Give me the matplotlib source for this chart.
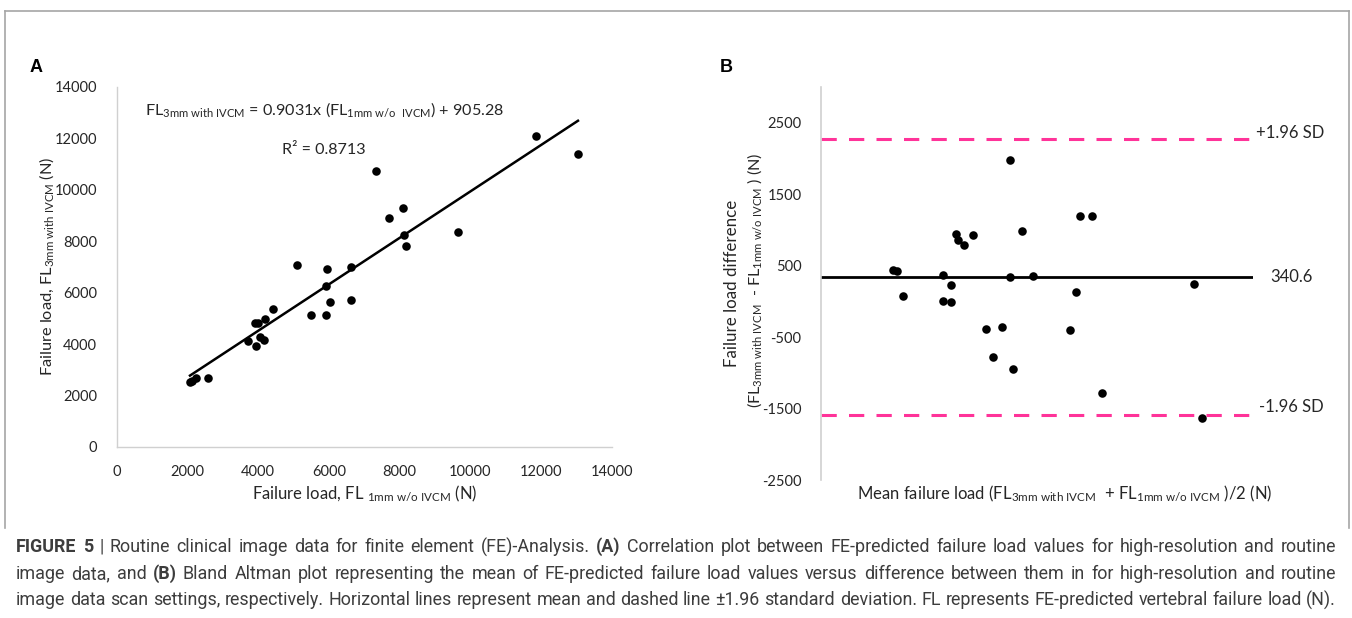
import matplotlib
matplotlib.use("Agg")
import matplotlib.pyplot as plt
from matplotlib.lines import Line2D
from matplotlib import font_manager
import numpy as np

# ---------------- data ----------------
# Panel A: FL 1mm w/o IVCM (x) vs FL 3mm with IVCM (y)
xA = [2073, 2138, 2234, 2591, 3722, 3930, 3911, 3987, 4053, 4175, 4194, 4429,
      5108, 5504, 5911, 5911, 5957, 6032, 6618, 6635, 7342, 7710, 8097, 8125,
      8190, 9652, 11850, 13046]
yA = [2540, 2579, 2672, 2672, 4123, 3928, 4835, 4835, 4290, 4162, 4979, 5355,
      7079, 5122, 5122, 6262, 6923, 5652, 6989, 5718, 10735, 8919, 9308, 8258,
      7806, 8363, 12096, 11396]
slope = 0.9031
intercept = 905.28
r2 = 0.8713
ticksA = [0, 2000, 4000, 6000, 8000, 10000, 12000, 14000]

# Panel B: Bland-Altman
xB = [2324, 2473, 2648, 3954, 4203, 3954, 4203, 4385, 4430, 4635, 4926, 5357,
      5565, 5866, 6135, 6125, 6213, 6505, 6861, 8384, 8783, 8265, 8060, 9097,
      12079, 12338]
yB = [441, 422, 77, 375, 227, 3, -7, 944, 860, 794, 934, -389, -772, -361,
      1975, 338, -940, 990, 361, 1196, 1192, 129, -399, -1284, 245, -1639]
mean_diff = 340.6
upper_loa = 2273
lower_loa = -1592
yticksB = [-2500, -1500, -500, 500, 1500, 2500]

# ---------------- style ----------------
plt.rcParams['font.family'] = ['Lato', 'DejaVu Sans']
plt.rcParams['mathtext.fontset'] = 'custom'
plt.rcParams['mathtext.rm'] = 'Lato'
plt.rcParams['mathtext.it'] = 'Lato:italic'
plt.rcParams['mathtext.bf'] = 'Lato:bold'

W, H = 1352, 618
fig = plt.figure(figsize=(W / 100, H / 100), dpi=100)

def fx(x):
    return x / W

def fy(y):
    return 1 - y / H

def ax_rect(x0, y0, x1, y1):
    return [fx(x0), fy(y1), (x1 - x0) / W, (y1 - y0) / H]

TXT = '#262626'
SPINE = '#d0d0d0'

# frame
frame_col = '#a6a6a6'
fig.add_artist(Line2D([fx(4.7), fx(4.7)], [fy(10.7), fy(528)], color=frame_col, lw=1.2))
fig.add_artist(Line2D([fx(4.7), fx(1349.3)], [fy(10.7), fy(10.7)], color=frame_col, lw=1.2))
fig.add_artist(Line2D([fx(1349.3), fx(1349.3)], [fy(10.7), fy(528)], color=frame_col, lw=1.2))

# ---------------- Panel A ----------------
axA = fig.add_axes(ax_rect(116.7, 87, 611.7, 447))
axA.scatter(xA, yA, s=38, color='black', zorder=3, linewidths=0)
xl = np.array([min(xA), max(xA)])
axA.plot(xl, slope * xl + intercept, color='black', lw=1.8, zorder=2)
axA.set_xlim(0, 14000)
axA.set_ylim(0, 14000)
axA.set_xticks(ticksA)
axA.set_yticks(ticksA)
axA.set_xticklabels([str(t) for t in ticksA])
axA.set_yticklabels([str(t) for t in ticksA])
for s in ['top', 'right']:
    axA.spines[s].set_visible(False)
for s in ['left', 'bottom']:
    axA.spines[s].set_color(SPINE)
    axA.spines[s].set_linewidth(1.0)
axA.tick_params(length=0, labelsize=10.5, colors=TXT, pad=14)
axA.tick_params(axis='x', pad=13)

fig.text(fx(145), fy(110),
         r'FL$_{\mathregular{3mm\ with\ IVCM}}$ = 0.9031x (FL$_{\mathregular{1mm\ w/o\ \ IVCM}}$) + 905.28',
         fontsize=11.6, color=TXT, ha='left', va='center')
fig.text(fx(282), fy(150), 'R² = %.4f' % r2, fontsize=11.6, color=TXT, ha='left', va='center')

fig.text(fx(47), fy(266.7), r'Failure load, FL$_{\mathregular{3mm\ with\ IVCM}}$ (N)',
         rotation=90, fontsize=11.8, color=TXT, ha='center', va='center')
fig.text(fx(364.5), fy(493), r'Failure load, FL $_{\mathregular{1mm\ w/o\ IVCM}}$ (N)',
         fontsize=12, color=TXT, ha='center', va='center')
fig.text(fx(36), fy(67), 'A', fontsize=13, fontweight='bold', color='black',
         ha='center', va='center', family=['Liberation Sans', 'DejaVu Sans'])

# ---------------- Panel B ----------------
axB = fig.add_axes(ax_rect(821, 87, 1253, 480))
axB.set_xlim(0, 14000)
axB.set_ylim(-2500, 3000)
axB.axhline(upper_loa, color='#ff3399', lw=2.2, dashes=(5, 4), zorder=1)
axB.axhline(lower_loa, color='#ff3399', lw=2.2, dashes=(5, 4), zorder=1)
axB.axhline(mean_diff, color='black', lw=2.0, zorder=2)
axB.scatter(xB, yB, s=38, color='black', zorder=3, linewidths=0)
axB.set_yticks(yticksB)
axB.set_yticklabels([str(t) for t in yticksB])
axB.set_xticks([])
for s in ['top', 'right', 'bottom']:
    axB.spines[s].set_visible(False)
axB.spines['left'].set_color(SPINE)
axB.spines['left'].set_linewidth(1.2)
axB.tick_params(length=0, labelsize=10.5, colors=TXT, pad=14)

fig.text(fx(1256), fy(133), '+1.96 SD', fontsize=12, color=TXT, ha='left', va='center')
fig.text(fx(1270), fy(276.7), '%.1f' % mean_diff, fontsize=12, color=TXT, ha='left', va='center')
fig.text(fx(1259), fy(407), '-1.96 SD', fontsize=12, color=TXT, ha='left', va='center')

fig.text(fx(732), fy(283), 'Failure load difference', rotation=90, fontsize=12.2,
         color=TXT, ha='center', va='center')
fig.text(fx(755), fy(280),
         r'(FL$_{\mathregular{3mm\ with\ IVCM}}$  - FL$_{\mathregular{1mm\ w/o\ IVCM}}$ ) (N)',
         rotation=90, fontsize=11.6, color=TXT, ha='center', va='center')
fig.text(fx(1065), fy(493),
         r'Mean failure load (FL$_{\mathregular{3mm\ with\ IVCM}}$  + FL$_{\mathregular{1mm\ w/o\ IVCM}}$ )/2 (N)',
         fontsize=12, color=TXT, ha='center', va='center')
fig.text(fx(726), fy(67), 'B', fontsize=13, fontweight='bold', color='black',
         ha='center', va='center', family=['Liberation Sans', 'DejaVu Sans'])

# ---------------- caption (justified) ----------------
cap_lines = [
    [("FIGURE 5", True), (" | Routine clinical image data for finite element (FE)-Analysis.", False),
     ("(A)", True), ("Correlation plot between FE-predicted failure load values for high-resolution and routine", False)],
    [("image data, and", False), ("(B)", True),
     ("Bland Altman plot representing the mean of FE-predicted failure load values versus difference between them in for high-resolution and routine", False)],
    [("image data scan settings, respectively. Horizontal lines represent mean and dashed line ±1.96 standard deviation. FL represents FE-predicted vertebral failure load (N).", False)],
]
cap_y = [547, 574, 600]
CAPCOL = '#3d3d3d'
names = {f.name for f in font_manager.fontManager.ttflist}
if 'Liberation Sans Narrow' in names:
    cap_family = ['Liberation Sans Narrow', 'DejaVu Sans']
    cap_weight = 'normal'
else:
    cap_family = ['Roboto', 'DejaVu Sans']
    cap_weight = 'normal'
renderer = fig.canvas.get_renderer()
x_left, x_right = 16, 1336

def words_of(line):
    out = []
    for seg, bold in line:
        for w in seg.split():
            out.append((w, bold))
    return out

# pick font size so that the first line fits with ordinary spaces
probe_fs = 12.0
def natural_width(line, fs):
    ws = words_of(line)
    tot = 0
    for w, bold in ws:
        t = fig.text(0, 0, w, fontsize=fs, family=cap_family,
                     fontweight='bold' if bold else cap_weight)
        tot += t.get_window_extent(renderer).width
        t.remove()
    sp = fig.text(0, 0, 'a a', fontsize=fs, family=cap_family)
    sa = fig.text(0, 0, 'aa', fontsize=fs, family=cap_family)
    space = sp.get_window_extent(renderer).width - sa.get_window_extent(renderer).width
    sp.remove(); sa.remove()
    return tot + space * (len(ws) - 1)

nw = max(natural_width(l, probe_fs) for l in cap_lines)
cap_fs = probe_fs * (x_right - x_left) / nw * 0.995

for line, yy in zip(cap_lines, cap_y):
    words = words_of(line)
    arts = []
    widths = []
    for w, bold in words:
        t = fig.text(0, fy(yy), w, fontsize=cap_fs, family=cap_family,
                     fontweight='bold' if bold else cap_weight, color=CAPCOL,
                     ha='left', va='center')
        arts.append(t)
        widths.append(t.get_window_extent(renderer).width)
    total = sum(widths)
    gap = (x_right - x_left - total) / (len(words) - 1)
    x = x_left
    for t, wdt in zip(arts, widths):
        t.set_x(fx(x))
        x += wdt + gap

fig.savefig('out.png', dpi=100)
